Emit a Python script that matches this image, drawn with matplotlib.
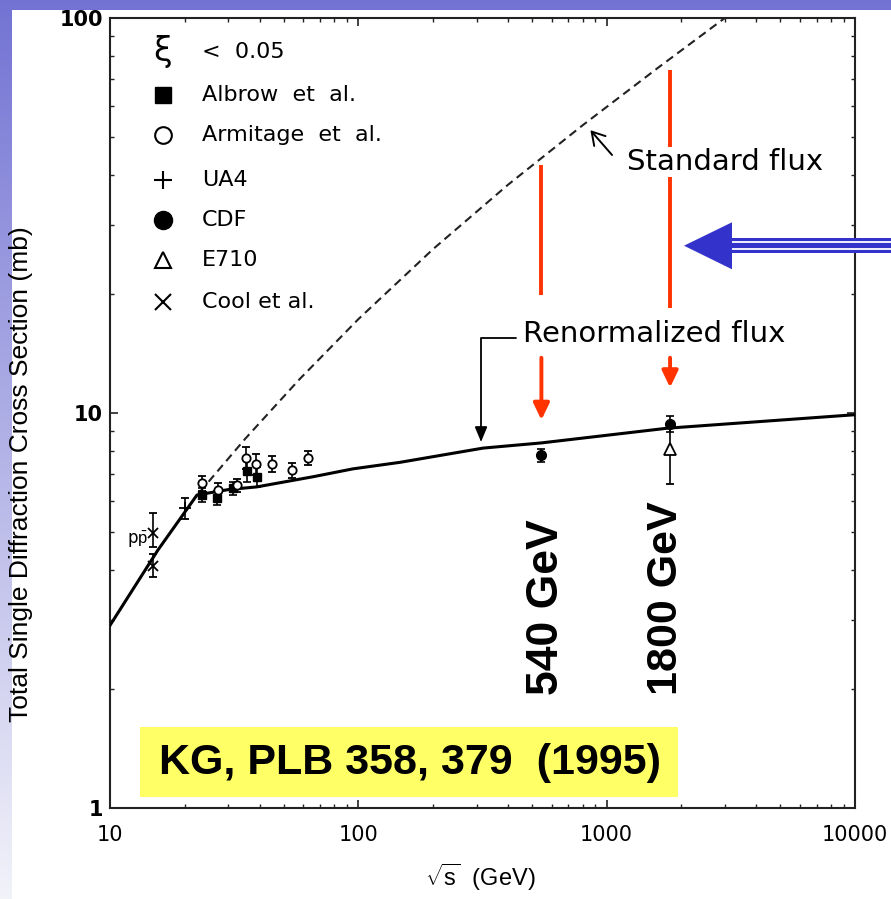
import numpy as np
import matplotlib
matplotlib.use("Agg")
import matplotlib.pyplot as plt
import matplotlib.patches as mpatches
import matplotlib.lines as mlines
from matplotlib.ticker import LogLocator, NullFormatter, FixedFormatter, FixedLocator

plt.rcParams['font.family'] = ['DejaVu Sans']
plt.rcParams['mathtext.fontset'] = 'custom'
plt.rcParams['mathtext.rm'] = 'Liberation Sans'

# ---- data ----
renorm_x = [10, 15.6, 22.4, 30, 39, 66, 95, 147, 318, 546, 1750, 10000]
renorm_y = [2.9, 4.5, 6.2, 6.4, 6.5, 6.9, 7.22, 7.5, 8.15, 8.4, 9.15, 9.9]

standard_x = [23, 35, 58, 100, 200, 400, 800, 1600, 3055, 4000]
standard_y = [6.31, 8.6, 12.18, 17.28, 26.0, 37.8, 53.5, 74.6, 101, 114]

albrow_x = [23.4, 27.0, 31.3, 35.6, 39.0]
albrow_y = [6.2, 6.1, 6.45, 7.15, 6.9]
albrow_err = [0.25, 0.25, 0.25, 0.45, 0.4]

armitage_x = [23.5, 27.2, 32.5, 35.3, 38.7, 45.0, 54.0, 62.7]
armitage_y = [6.64, 6.4, 6.57, 7.7, 7.43, 7.43, 7.16, 7.7]
armitage_err = [0.3, 0.25, 0.25, 0.5, 0.45, 0.35, 0.3, 0.3]

ua4_x = [20.0]
ua4_y = [5.75]
ua4_err = [0.35]

cool_x = [14.9, 14.9]
cool_y = [4.97, 4.1]
cool_err_lo = [0.4, 0.25]
cool_err_hi = [0.6, 0.3]

cdf_x = [546, 1800]
cdf_y = [7.83, 9.38]
cdf_err = [0.3, 0.45]

e710_x = [1800]
e710_y = [8.1]
e710_err_lo = [1.5]
e710_err_hi = [1.2]

legend_labels = ['Albrow  et  al.', 'Armitage  et  al.', 'UA4', 'CDF', 'E710', 'Cool et al.']

W, H = 891, 899
RED = '#FF3300'
BLUE = '#3333CC'


def fig_xy(px, py):
    """pixel position (from top-left) to figure fraction"""
    return px / W, 1 - py / H


fig = plt.figure(figsize=(W / 100, H / 100), dpi=100)

# slide background: blue gradient at left/top edge
bg = fig.add_axes([0, 0, 1, 1], zorder=-5)
grad = np.linspace(0, 1, 256).reshape(-1, 1)
top = np.array([0.45, 0.45, 0.83])
bot = np.array([0.95, 0.95, 0.98])
img = top + grad[..., None] * (bot - top)
bg.imshow(img, aspect='auto', extent=[0, 1, 0, 1], origin='upper')
bg.add_patch(mpatches.Rectangle((12 / W, 0), 1, 1 - 10 / H, color='white', lw=0))
bg.set_xlim(0, 1)
bg.set_ylim(0, 1)
bg.axis('off')

ax = fig.add_axes([110 / W, 1 - 808 / H, 745 / W, 790 / H])
ax.set_xscale('log')
ax.set_yscale('log')
ax.set_xlim(10, 10000)
ax.set_ylim(1, 100)

# curves
ax.plot(renorm_x, renorm_y, color='black', lw=2.2, zorder=3)
ax.plot(standard_x, standard_y, color='#222222', lw=1.5, dashes=(4, 2.5), zorder=3)

# data points
eb = dict(ecolor='black', elinewidth=1.2, capsize=3, capthick=1.2, ls='none', zorder=4)
ax.errorbar(albrow_x, albrow_y, yerr=albrow_err, fmt='s', ms=6, mfc='black', mec='black', **eb)
ax.errorbar(armitage_x, armitage_y, yerr=armitage_err, fmt='o', ms=6, mfc='white', mec='black', mew=1.3, **eb)
ax.errorbar(ua4_x, ua4_y, yerr=ua4_err, fmt='+', ms=9, mec='black', mew=1.3, **eb)
ax.errorbar(cool_x, cool_y, yerr=[cool_err_lo, cool_err_hi], fmt='x', ms=7, mec='black', mew=1.3, **eb)
ax.errorbar(cdf_x, cdf_y, yerr=cdf_err, fmt='o', ms=7, mfc='black', mec='black', **eb)
ax.errorbar(e710_x, e710_y, yerr=[e710_err_lo, e710_err_hi], fmt='^', ms=9, mfc='white', mec='black', mew=1.3, **eb)
ax.text(14.2, 4.77, r'p$\bar{\rm p}$', fontsize=12, ha='right', va='center')

# legend (drawn by hand, as in the original)
ax.text(0.071, 0.957, 'ξ', fontsize=24, ha='center', va='center', transform=ax.transAxes)
ax.text(0.1235, 0.957, '<  0.05', fontsize=16, ha='left', va='center', transform=ax.transAxes)
legend_markers = [
    dict(marker='s', ms=12, mfc='black', mec='black'),
    dict(marker='o', ms=12, mfc='white', mec='black', mew=1.5),
    dict(marker='+', ms=13, mec='black', mew=1.5),
    dict(marker='o', ms=13, mfc='black', mec='black'),
    dict(marker='^', ms=12, mfc='white', mec='black', mew=1.5),
    dict(marker='x', ms=11, mec='black', mew=1.5),
]
legend_rows = [0.9025, 0.852, 0.795, 0.744, 0.694, 0.641]
for label, style, yrow in zip(legend_labels, legend_markers, legend_rows):
    ax.plot([0.071], [yrow], ls='none', transform=ax.transAxes, **style)
    ax.text(0.1235, yrow, label, fontsize=16, ha='left', va='center', transform=ax.transAxes)

# flux labels and pointers
ax.text(1208, 43.2, 'Standard flux', fontsize=21, ha='left', va='center', zorder=6,
        bbox=dict(facecolor='white', edgecolor='none', pad=1))
ax.annotate('', xy=(860, 52.0), xytext=(1051, 45),
            arrowprops=dict(arrowstyle='->,head_length=0.5,head_width=0.3', lw=1.4,
                            color='black', shrinkA=0, shrinkB=0, mutation_scale=18))
ax.text(460, 15.85, 'Renormalized flux', fontsize=21, ha='left', va='center', zorder=6)
ax.annotate('', xy=(312, 8.45), xytext=(430, 15.5),
            arrowprops=dict(arrowstyle='-|>,head_length=0.6,head_width=0.25', lw=1.3,
                            color='black', shrinkA=0, shrinkB=0, mutation_scale=15,
                            connectionstyle='angle,angleA=180,angleB=90,rad=0'))

# red markers at the two energies
red_arrow = dict(arrowstyle='-|>,head_length=0.5,head_width=0.24', color=RED, lw=2.8,
                 shrinkA=0, shrinkB=0, mutation_scale=20)
ax.plot([546, 546], [19.9, 42.5], color=RED, lw=2.8, zorder=5, solid_capstyle='butt')
ax.annotate('', xy=(546, 9.6), xytext=(546, 13.8), arrowprops=red_arrow, zorder=5)
ax.plot([1800, 1800], [18.4, 73.9], color=RED, lw=2.8, zorder=5, solid_capstyle='butt')
ax.annotate('', xy=(1800, 11.6), xytext=(1800, 13.8), arrowprops=red_arrow, zorder=5)

ax.text(575, 1.93, '540 GeV', fontsize=32, fontweight='bold', family='Liberation Sans',
        rotation=90, ha='center', va='bottom')
ax.text(1735, 1.93, '1800 GeV', fontsize=31, fontweight='bold', family='Liberation Sans',
        rotation=90, ha='center', va='bottom')

# reference box
bx0, by0 = fig_xy(140, 797)
bx1, by1 = fig_xy(678, 727)
fig.add_artist(mpatches.Rectangle((bx0, by0), bx1 - bx0, by1 - by0, transform=fig.transFigure,
                                  facecolor='#FFFF66', edgecolor='none', zorder=5))
tx, ty = fig_xy(410, 763)
fig.text(tx, ty, 'KG, PLB 358, 379  (1995)', fontsize=31, fontweight='bold',
         family='Liberation Sans', ha='center', va='center', zorder=6)

# blue pointer coming in from the right edge
x_base, _ = fig_xy(732, 0)
_, y_top = fig_xy(0, 238.3)
_, y_bot = fig_xy(0, 253.3)
fig.add_artist(mpatches.Rectangle((x_base - 0.002, y_bot), 1.0, y_top - y_bot, transform=fig.transFigure,
                                  facecolor=BLUE, edgecolor='none', zorder=7))
for ys in (242.0, 249.3):
    _, yy = fig_xy(0, ys)
    fig.add_artist(mlines.Line2D([x_base, 1], [yy, yy], transform=fig.transFigure,
                                 color='white', lw=1.3, zorder=8))
head = [fig_xy(684, 245.7), fig_xy(732, 222.3), fig_xy(732, 269.3)]
fig.add_artist(mpatches.Polygon(head, closed=True, transform=fig.transFigure,
                                facecolor=BLUE, edgecolor='none', zorder=8))

# axes styling
for s in ax.spines.values():
    s.set_linewidth(1.5)
    s.set_color('#222222')
ax.tick_params(which='both', direction='in', top=True, right=True, colors='#222222')
ax.tick_params(which='major', length=6, width=1.2)
ax.tick_params(which='minor', length=3, width=1.0)
ax.tick_params(axis='x', which='major', pad=12, labelsize=15, labelcolor='black')
ax.tick_params(axis='y', which='major', pad=5, labelsize=15, labelcolor='black')
ax.xaxis.set_major_locator(FixedLocator([10, 100, 1000, 10000]))
ax.xaxis.set_major_formatter(FixedFormatter(['10', '100', '1000', '10000']))
ax.xaxis.set_minor_locator(LogLocator(base=10, subs=np.arange(2, 10)))
ax.xaxis.set_minor_formatter(NullFormatter())
ax.yaxis.set_major_locator(FixedLocator([1, 10, 100]))
ax.yaxis.set_major_formatter(FixedFormatter(['1', '10', '100']))
ax.yaxis.set_minor_locator(LogLocator(base=10, subs=np.arange(2, 10)))
ax.yaxis.set_minor_formatter(NullFormatter())
for lbl in ax.get_yticklabels():
    lbl.set_fontweight('bold')

ax.set_xlabel(r'$\sqrt{\rm s}$  (GeV)', fontsize=17, family='Liberation Sans')
ax.xaxis.set_label_coords(0.497, -0.068)
ax.set_ylabel('Total Single Diffraction Cross Section (mb)', fontsize=19, family='Liberation Sans')
ax.yaxis.set_label_coords(-0.103, 0.423)

fig.savefig('out.png', dpi=100)
